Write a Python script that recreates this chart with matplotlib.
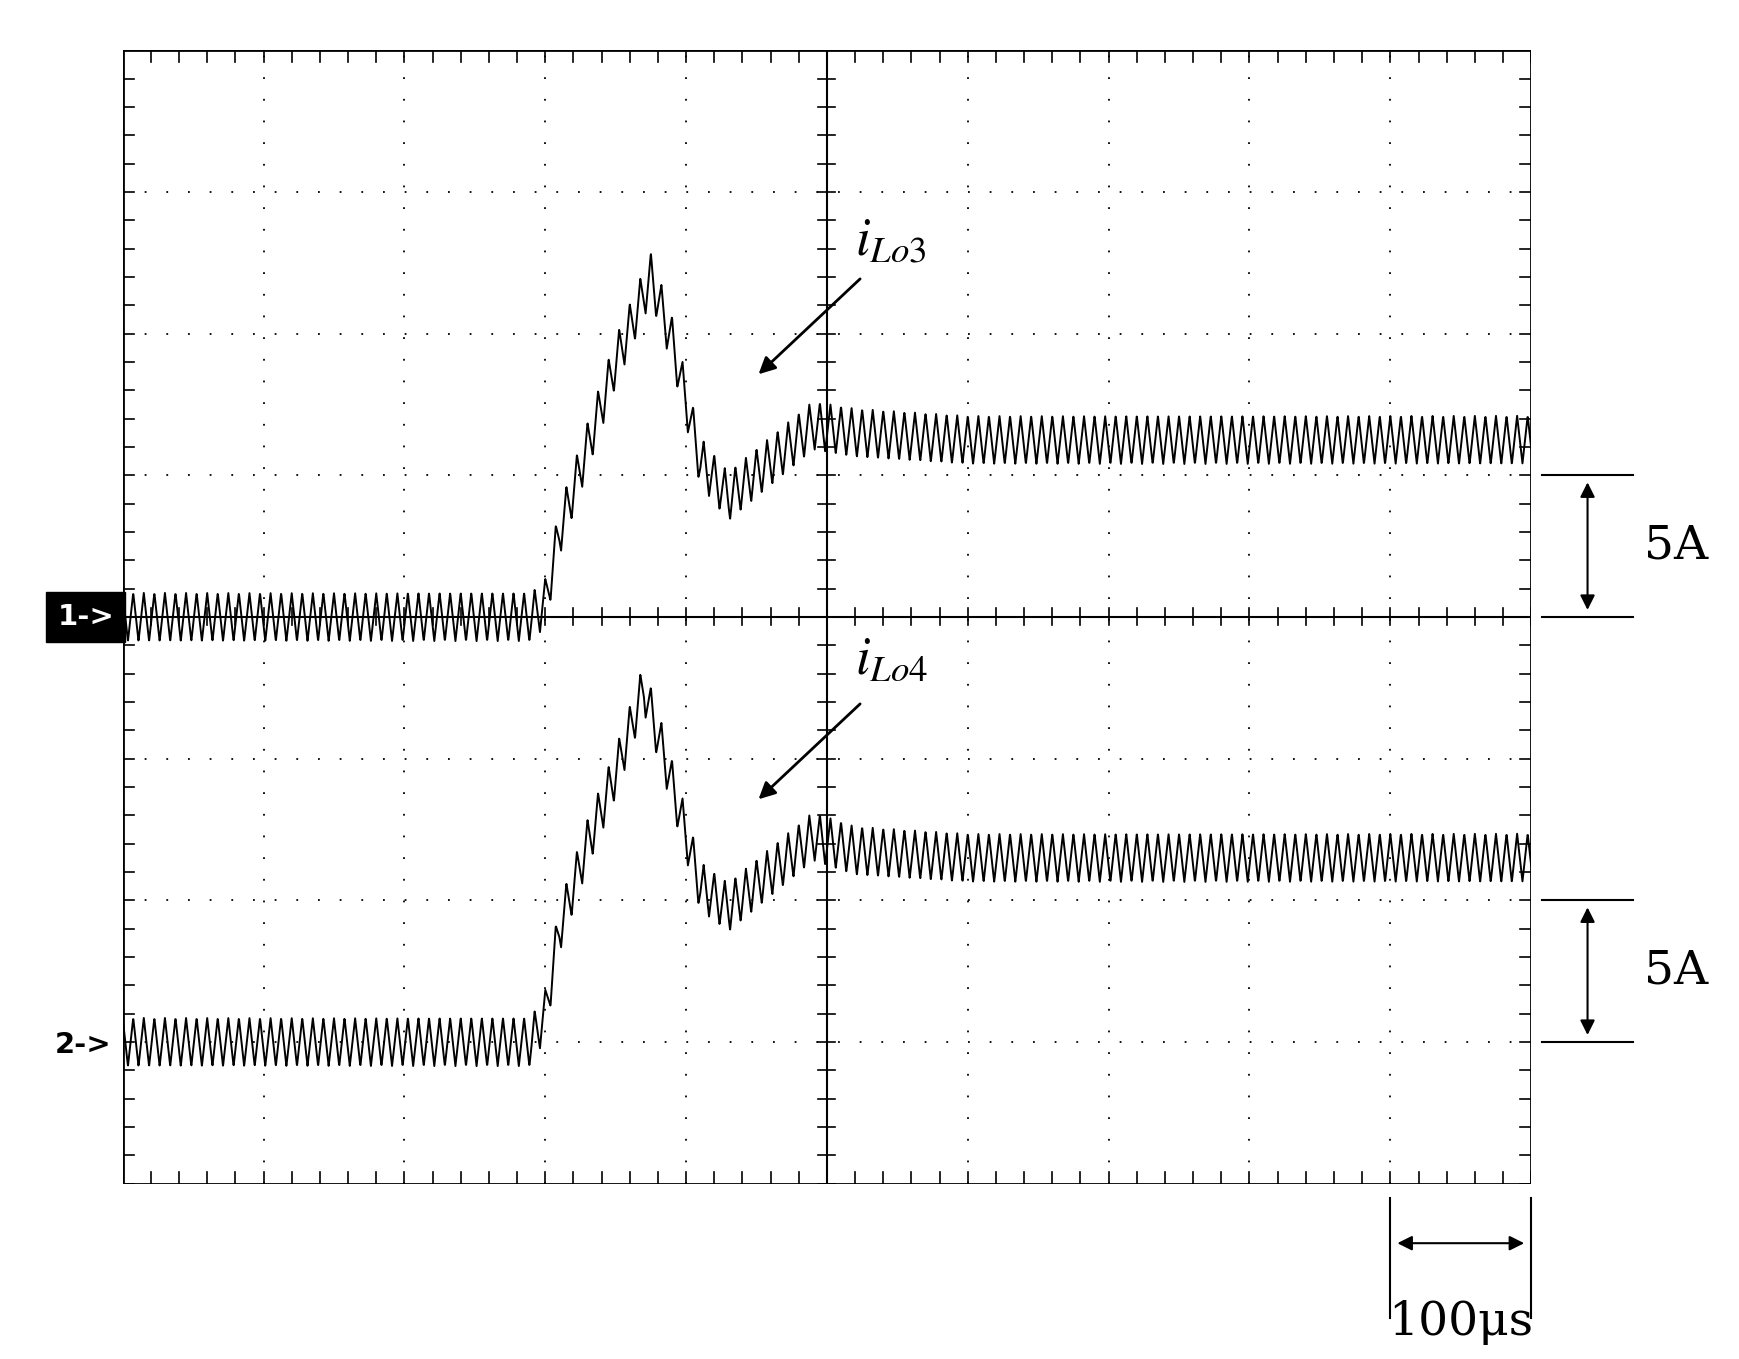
import numpy as np
import matplotlib.pyplot as plt

plt.rcParams['mathtext.fontset'] = 'stix'

# envelope key points (x in divisions, y in divisions)
ch1_x = [0.0, 2.9, 3.0, 3.1, 3.3, 3.5, 3.75, 3.9, 4.1, 4.3, 4.6, 4.9, 5.2, 6.0, 10.0]
ch1_y = [4.0, 4.0, 4.1, 4.6, 5.2, 5.8, 6.4, 5.95, 5.1, 4.85, 5.1, 5.35, 5.3, 5.25, 5.25]
ch2_x = [0.0, 2.9, 3.0, 3.1, 3.3, 3.5, 3.7, 3.85, 4.1, 4.3, 4.6, 4.9, 5.2, 6.0, 10.0]
ch2_y = [1.0, 1.0, 1.2, 1.8, 2.4, 2.9, 3.5, 3.0, 2.1, 1.95, 2.2, 2.45, 2.35, 2.3, 2.3]
ripple_amp = 0.17
ripple_period = 0.075

fig = plt.figure(figsize=(17.4, 13.59), dpi=100)
ax = fig.add_axes([0.0705, 0.129, 0.8095, 0.834])
ax.set_xlim(0, 10)
ax.set_ylim(0, 8)
ax.axis('off')

t = np.linspace(0, 10, 5000)
saw = ripple_amp * (2 * np.abs(2 * ((t / ripple_period) % 1) - 1) - 1)
for xs, ys in [(ch1_x, ch1_y), (ch2_x, ch2_y)]:
    env = np.interp(t, xs, ys)
    ax.plot(t, env + saw, color='black', lw=1.4)

# grid
for gx in range(1, 10):
    if gx != 5:
        ax.plot([gx, gx], [0, 8], color='black', lw=1.3, ls=(0, (1, 11)))
for gy in range(1, 8):
    if gy != 4:
        ax.plot([0, 10], [gy, gy], color='black', lw=1.3, ls=(0, (1, 11)))
ax.plot([0, 10, 10, 0, 0], [0, 0, 8, 8, 0], color='black', lw=2)
ax.plot([5, 5], [0, 8], color='black', lw=1.5)
ax.plot([0, 10], [4, 4], color='black', lw=1.5)
for k in np.arange(0, 10.01, 0.2):
    for yb, h in [(0, 0.08), (8, -0.08), (4, 0.06), (4, -0.06)]:
        ax.plot([k, k], [yb, yb + h], color='black', lw=1.2)
for k in np.arange(0, 8.01, 0.2):
    for xb, w in [(0, 0.08), (10, -0.08), (5, 0.06), (5, -0.06)]:
        ax.plot([xb, xb + w], [k, k], color='black', lw=1.2)

# channel markers
ax.text(-0.06, 4.0, '1->', ha='right', va='center', fontsize=21, color='white',
        fontweight='bold', bbox=dict(facecolor='black', edgecolor='black', pad=8), clip_on=False)
ax.text(-0.08, 0.98, '2->', ha='right', va='center', fontsize=21, fontweight='bold', clip_on=False)

# labels
ax.text(5.2, 6.55, r'$i_{Lo3}$', fontsize=38)
ax.annotate('', xy=(4.5, 5.7), xytext=(5.25, 6.4),
            arrowprops=dict(arrowstyle='-|>', color='black', lw=2, mutation_scale=25))
ax.text(5.2, 3.6, r'$i_{Lo4}$', fontsize=38)
ax.annotate('', xy=(4.5, 2.7), xytext=(5.25, 3.4),
            arrowprops=dict(arrowstyle='-|>', color='black', lw=2, mutation_scale=25))

# 5A scale markers
for y0 in [4.0, 1.0]:
    ax.plot([10.08, 10.72], [y0, y0], color='black', lw=1.5, clip_on=False)
    ax.plot([10.08, 10.72], [y0 + 1, y0 + 1], color='black', lw=1.5, clip_on=False)
    ax.annotate('', xy=(10.4, y0 + 0.97), xytext=(10.4, y0 + 0.03),
                arrowprops=dict(arrowstyle='<|-|>', color='black', lw=1.5, mutation_scale=22),
                annotation_clip=False)
    ax.text(10.8, y0 + 0.5, '5A', fontsize=34, family='serif', va='center')

# 100us marker
for xx in [9.0, 10.0]:
    ax.plot([xx, xx], [-0.1, -0.95], color='black', lw=1.5, clip_on=False)
ax.annotate('', xy=(9.97, -0.42), xytext=(9.03, -0.42),
            arrowprops=dict(arrowstyle='<|-|>', color='black', lw=1.5, mutation_scale=22),
            annotation_clip=False)
ax.text(9.5, -0.98, '100\u03bcs', fontsize=34, family='serif', ha='center', va='center')

fig.savefig('out.png', dpi=100)
